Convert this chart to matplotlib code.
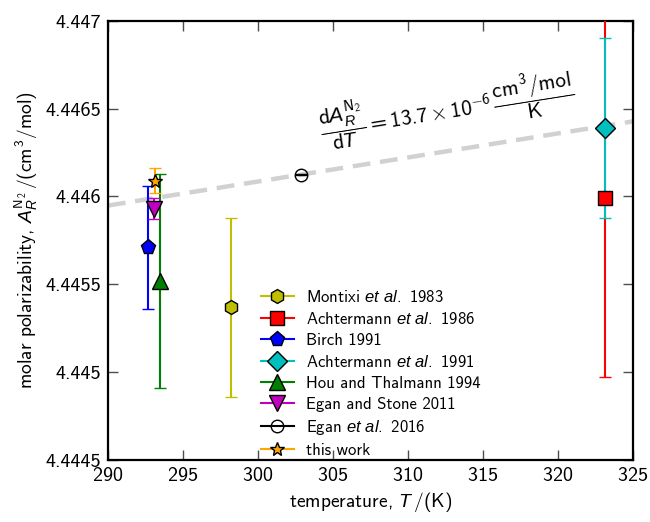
import numpy as np
import matplotlib
matplotlib.use("Agg")
import matplotlib.pyplot as plt
from matplotlib.lines import Line2D
from matplotlib.ticker import FuncFormatter, MultipleLocator

plt.rcParams["font.family"] = ["cmss10", "DejaVu Sans"]
plt.rcParams["mathtext.fontset"] = "custom"
plt.rcParams["mathtext.rm"] = "cmss10"
plt.rcParams["mathtext.sf"] = "cmss10"
plt.rcParams["mathtext.it"] = "Liberation Sans:italic"
plt.rcParams["axes.unicode_minus"] = False
plt.rcParams["axes.formatter.use_mathtext"] = True

# data
labels = [r"Montixi $\mathit{et\ al.}$ 1983",
          r"Achtermann $\mathit{et\ al.}$ 1986",
          "Birch 1991",
          r"Achtermann $\mathit{et\ al.}$ 1991",
          "Hou and Thalmann 1994",
          "Egan and Stone 2011",
          r"Egan $\mathit{et\ al.}$ 2016",
          "this work"]
temps = [298.2, 323.1, 292.7, 323.1, 293.5, 293.1, 302.9, 293.15]
values = [4.44537, 4.44599, 4.44571, 4.44639, 4.44552, 4.44593, 4.446125, 4.44609]
errors = [0.00051, 0.00102, 0.00035, 0.00051, 0.00061, 0.00006, 0.000003, 0.00007]
colors = [(0.75, 0.75, 0), "r", "b", (0, 0.75, 0.75), "g", (0.75, 0, 0.75), "k", "orange"]
markers = ["h", "s", "p", "D", "^", "v", "o", "*"]
msizes = [10, 10, 11, 10, 11, 11, 9, 10]
faces = [(0.75, 0.75, 0), "r", "b", (0, 0.75, 0.75), "g", (0.75, 0, 0.75), "none", "orange"]

slope = 13.7e-6
ref_T, ref_A = 302.9, 4.446125
line_T = np.array([290.0, 325.0])

fig = plt.figure(figsize=(6.5, 5.22), dpi=100)
ax = fig.add_axes([0.166, 0.119, 0.808, 0.841])

ax.plot(line_T, ref_A + slope * (line_T - ref_T), ls="--", color="0.82",
        lw=3.2, dashes=(4, 2.2), zorder=1)

handles = []
for i in range(len(labels)):
    ax.errorbar(temps[i], values[i], yerr=errors[i], fmt=markers[i],
                color=colors[i], mfc=faces[i], mec="k", mew=1.0,
                ms=msizes[i], capsize=4, elinewidth=1.5, capthick=1.0,
                zorder=3)
    handles.append(Line2D([], [], color=colors[i], marker=markers[i],
                          mfc=faces[i], mec="k", ms=msizes[i], lw=1.5))

ax.legend(handles, labels, loc="lower left", bbox_to_anchor=(0.262, -0.03),
          frameon=False, fontsize=12, numpoints=1, handlelength=2.0,
          labelspacing=0.36, handletextpad=0.75)

ax.text(312.6, 4.4465,
        r"$\dfrac{\mathrm{d}A_R^{\mathrm{N_2}}}{\mathrm{d}T} = 13.7\times10^{-6}\,"
        r"\dfrac{\mathrm{cm^3/mol}}{\mathrm{K}}$",
        fontsize=15.3, ha="center", va="center", rotation=9)

ax.set_xlim(290, 325)
ax.set_ylim(4.4445, 4.447)
ax.xaxis.set_major_locator(MultipleLocator(5))
ax.yaxis.set_major_locator(MultipleLocator(0.0005))
ax.yaxis.set_major_formatter(FuncFormatter(lambda v, p: "%g" % round(v, 5)))
ax.tick_params(direction="in", top=True, right=True, length=7, width=1,
               labelsize=14.5, color="0.3", pad=5)
for s in ax.spines.values():
    s.set_linewidth(1.6)

ax.set_xlabel(r"temperature, $T\,/(\mathrm{K})$", fontsize=14)
ax.set_ylabel(r"molar polarizability, $A_R^{\mathrm{N_2}}\,/(\mathrm{cm^3/mol})$",
              fontsize=14)

fig.savefig("out.png", dpi=100)
